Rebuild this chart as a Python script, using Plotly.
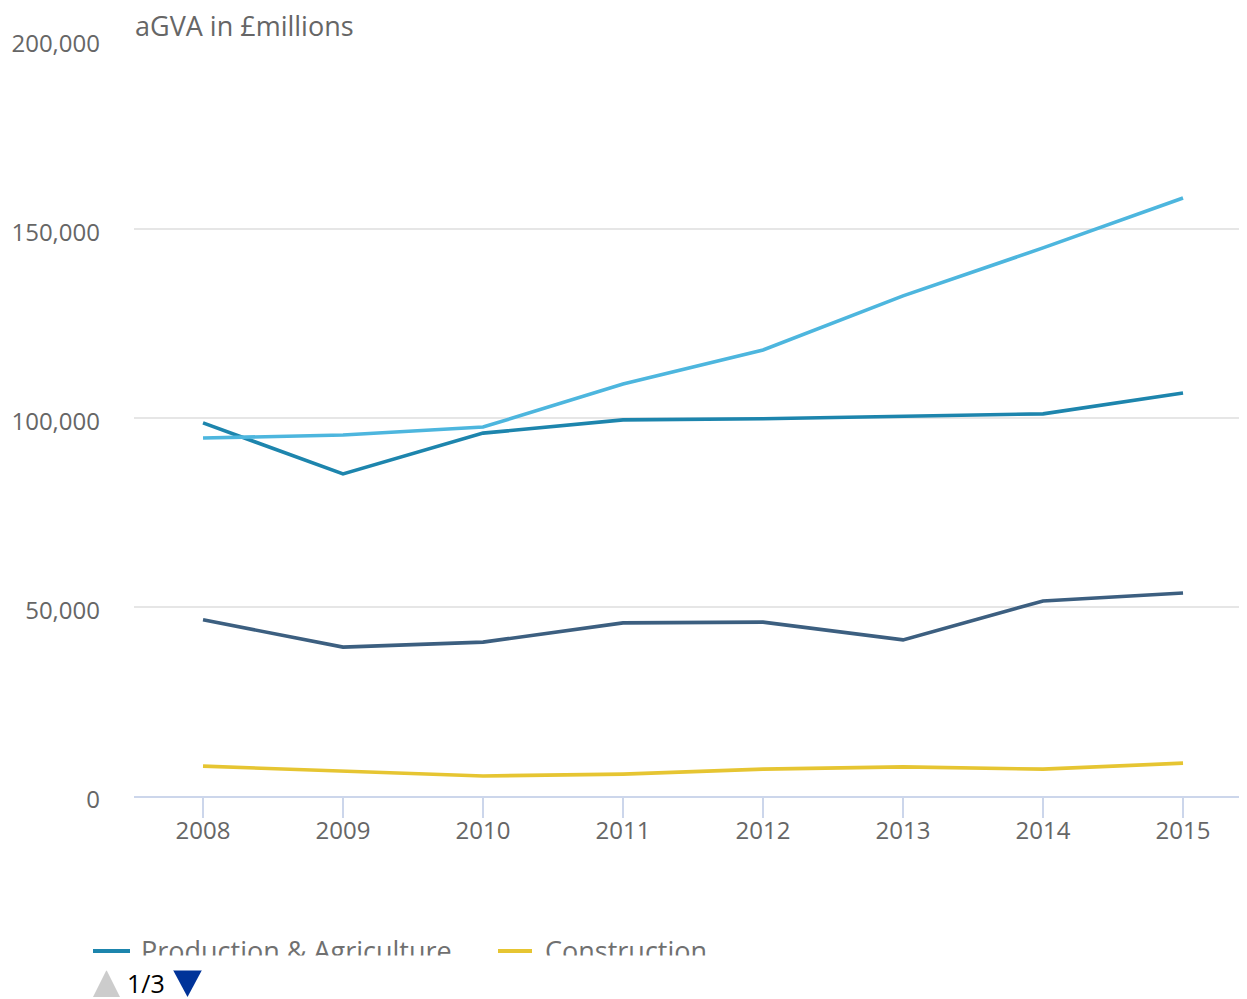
import plotly.graph_objects as go

years = [2008, 2009, 2010, 2011, 2012, 2013, 2014, 2015]
production_agriculture = [98700, 85200, 96000, 99500, 99800, 100400, 101100, 106600]
services = [94700, 95500, 97600, 109000, 118000, 132300, 145000, 158200]
public_sector = [46600, 39400, 40700, 45800, 46000, 41300, 51600, 53700]
construction = [7900, 6600, 5300, 5800, 7100, 7700, 7100, 8700]

y_ticks = [0, 50000, 100000, 150000, 200000]
legend_items = ["Production & Agriculture", "Construction"]

C_PROD = "#1d85ad"
C_SERV = "#4db6de"
C_PUB = "#3c5f80"
C_CONS = "#e6c532"
FONT = "Open Sans"
OFF = 8  # page body margin
W, H = 1247 - OFF, 999 - OFF
L, T = 134 - OFF, 40 - OFF
PLOT_BOTTOM = 796 - OFF
R = 0
B = H - PLOT_BOTTOM


def px(x):
    return (x - OFF - L) / (W - L - R)


def py(y):
    return (PLOT_BOTTOM - (y - OFF)) / (PLOT_BOTTOM - T)


fig = go.Figure()
for name, vals, col in [
    ("Production & Agriculture", production_agriculture, C_PROD),
    ("Services", services, C_SERV),
    ("Public sector", public_sector, C_PUB),
    ("Construction", construction, C_CONS),
]:
    fig.add_trace(go.Scatter(x=years, y=vals, name=name, mode="lines",
                             line=dict(color=col, width=3.6), showlegend=False))

annotations = [
    dict(text="aGVA in £millions", xref="paper", yref="paper", x=px(133), y=py(25),
         xanchor="left", yanchor="middle", showarrow=False,
         font=dict(family=FONT, size=27, color="#666666")),
    dict(text=legend_items[0], xref="paper", yref="paper", x=px(139), y=py(950),
         xanchor="left", yanchor="middle", showarrow=False,
         font=dict(family=FONT, size=27, color="#707070")),
    dict(text=legend_items[1], xref="paper", yref="paper", x=px(543), y=py(950),
         xanchor="left", yanchor="middle", showarrow=False,
         font=dict(family=FONT, size=27, color="#707070")),
    # clip cover
    dict(text=" ", xref="paper", yref="paper", x=px(60), y=py(955),
         xanchor="left", yanchor="top", showarrow=False, width=800, height=14,
         bgcolor="white", borderpad=0, font=dict(size=8)),
    dict(text="1/3", xref="paper", yref="paper", x=px(125), y=py(983),
         xanchor="left", yanchor="middle", showarrow=False,
         font=dict(family=FONT, size=25, color="#000000")),
]

shapes = [
    dict(type="line", xref="paper", yref="paper", x0=px(93), x1=px(130), y0=py(951), y1=py(951),
         line=dict(color=C_PROD, width=4)),
    dict(type="line", xref="paper", yref="paper", x0=px(498), x1=px(532), y0=py(951), y1=py(951),
         line=dict(color=C_CONS, width=4)),
    dict(type="path", xref="paper", yref="paper",
         path=f"M {px(93)},{py(997)} L {px(120)},{py(997)} L {px(106.5)},{py(970)} Z",
         fillcolor="#cccccc", line=dict(width=0)),
    dict(type="path", xref="paper", yref="paper",
         path=f"M {px(173)},{py(970)} L {px(202)},{py(970)} L {px(187.5)},{py(997)} Z",
         fillcolor="#003399", line=dict(width=0)),
]

fig.update_layout(
    width=W, height=H,
    margin=dict(l=L, r=R, t=T, b=B, pad=0),
    paper_bgcolor="white", plot_bgcolor="white",
    font=dict(family=FONT, size=24, color="#666666"),
    annotations=annotations, shapes=shapes,
    xaxis=dict(range=[2007.507, 2015.457], tickvals=years, ticktext=[str(y) for y in years],
               showgrid=False, zeroline=False, showline=True, linecolor="#ccd6eb", linewidth=2,
               ticks="outside", ticklen=20, tickwidth=2, tickcolor="#ccd6eb",
               ticklabelstandoff=-8,
               tickfont=dict(family=FONT, size=24, color="#666666")),
    yaxis=dict(range=[0, 200000], tickvals=y_ticks, tickformat=",", showgrid=True,
               gridcolor="#e6e6e6", gridwidth=2, zeroline=False, showline=False, ticks="",
               ticklabelstandoff=33, ticklabelshift=4,
               tickfont=dict(family=FONT, size=24, color="#666666")),
)

fig.write_html("out.html")
